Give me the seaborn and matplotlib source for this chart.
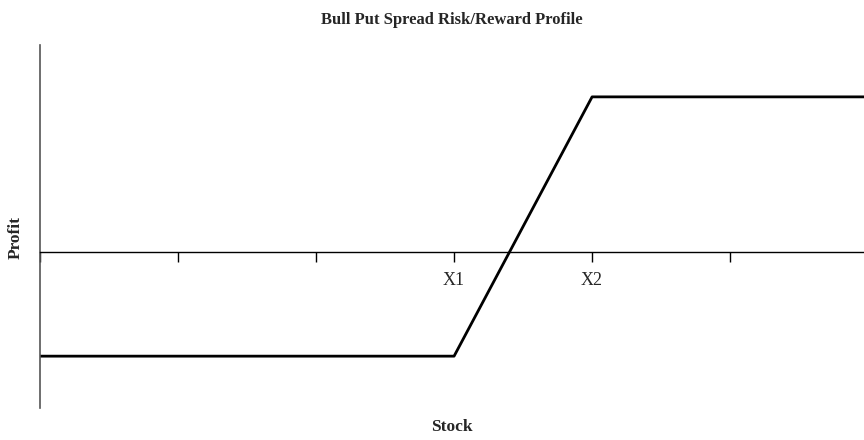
import matplotlib
matplotlib.use("Agg")
import matplotlib.pyplot as plt
import seaborn as sns
import pandas as pd

# payoff profile, in strike-spacing units
stock = [0, 3, 4, 5.97]
profit = [-2, -2, 3, 3]
tick_pos = [0, 1, 2, 3, 4, 5]
tick_labels = ["", "", "", "X1", "X2", ""]

sns.set_style("ticks")
plt.rcParams["font.family"] = ["Liberation Serif", "DejaVu Serif"]

df = pd.DataFrame({"Stock": stock, "Profit": profit})

fig = plt.figure(figsize=(8.64, 4.4), dpi=100)
ax = fig.add_axes([0.0463, 0.0727, 0.9537, 0.8250])

sns.lineplot(data=df, x="Stock", y="Profit", color="black", linewidth=2, ax=ax)

ax.set_xlim(0, 5.97)
ax.set_ylim(-3, 4)

# x-axis sits on the zero line
ax.spines["bottom"].set_position(("data", 0))
ax.spines["bottom"].set_color("black")
ax.spines["bottom"].set_linewidth(1.0)
ax.spines["left"].set_color("#555555")
ax.spines["left"].set_linewidth(1.2)
ax.spines["top"].set_visible(False)
ax.spines["right"].set_visible(False)

ax.set_xticks(tick_pos)
ax.set_xticklabels(tick_labels, fontsize=13)
ax.tick_params(axis="x", direction="out", length=7, width=1, color="black", pad=7)
ax.set_yticks([])

ax.set_title("Bull Put Spread Risk/Reward Profile", fontsize=12, fontweight="bold", pad=15)
ax.set_xlabel("")
ax.set_ylabel("")
fig.text(0.523, 0.012, "Stock", ha="center", va="bottom", fontsize=12.5, fontweight="bold")
fig.text(0.018, 0.46, "Profit", ha="center", va="center", rotation=90, fontsize=12.5, fontweight="bold")

fig.savefig("out.png", dpi=100)
